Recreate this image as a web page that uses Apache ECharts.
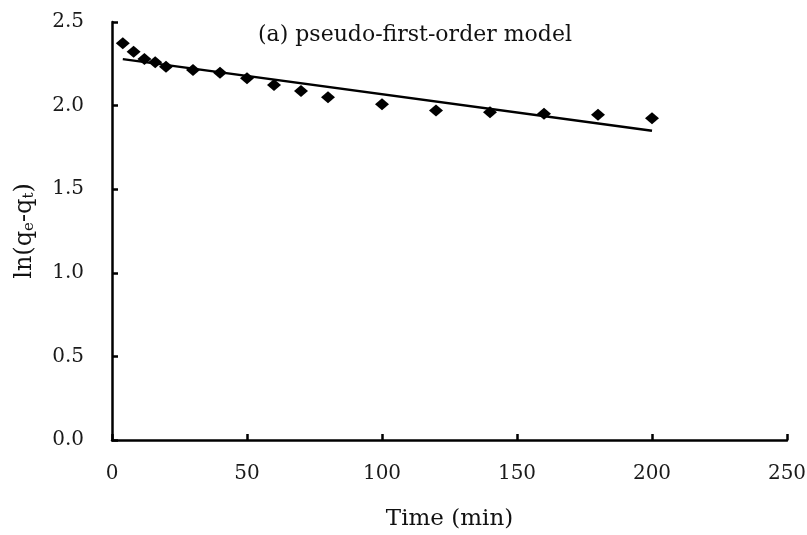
<!DOCTYPE html>
<html>
<head>
<meta charset="utf-8">
<script src="https://cdn.jsdelivr.net/npm/echarts@6/dist/echarts.min.js"></script>
<style>html,body{margin:0;padding:0;background:#fff;overflow:hidden}#c{width:807px;height:535px}</style>
</head>
<body>
<div id="c"></div>
<script>
var timeMin = [4, 8, 12, 16, 20, 30, 40, 50, 60, 70, 80, 100, 120, 140, 160, 180, 200];
var lnQ = [2.373, 2.322, 2.279, 2.259, 2.233, 2.213, 2.197, 2.163, 2.123, 2.087, 2.050, 2.008, 1.970, 1.960, 1.952, 1.946, 1.924];
var fitTime = [4, 200];
var fitLn = [2.278, 1.849];
var xTicks = [0, 50, 100, 150, 200, 250];
var yTicks = [0, 0.5, 1.0, 1.5, 2.0, 2.5];

var font = 'DejaVu Serif';
var chart = echarts.init(document.getElementById('c'));
chart.setOption({
  animation: false,
  title: {
    text: '(a) pseudo-first-order model',
    left: 410, top: 19, textAlign: 'center',
    textStyle: {fontFamily: font, fontSize: 22, fontWeight: 'normal', color: '#111'}
  },
  grid: {left: 112, right: 20, top: 22, bottom: 95, outerBoundsMode: 'none', containLabel: false},
  xAxis: {
    type: 'value', min: xTicks[0], max: xTicks[xTicks.length - 1], interval: 50,
    name: 'Time (min)', nameLocation: 'middle', nameGap: 68,
    nameTextStyle: {fontFamily: font, fontSize: 23, color: '#111'},
    axisLine: {lineStyle: {color: '#000', width: 2.5}},
    axisTick: {inside: true, length: 6, lineStyle: {color: '#000', width: 2.5}},
    axisLabel: {fontFamily: font, fontSize: 20, color: '#1a1a1a', margin: 24},
    splitLine: {show: false}
  },
  yAxis: {
    type: 'value', min: yTicks[0], max: yTicks[yTicks.length - 1], interval: 0.5,
    name: '{n|ln(q}{s|e}{n|-q}{s|t}{n|)}', nameLocation: 'middle', nameGap: 75, nameRotate: 90,
    nameTextStyle: {
      rich: {
        n: {fontFamily: font, fontSize: 24, color: '#111'},
        s: {fontFamily: font, fontSize: 15, color: '#111', verticalAlign: 'bottom', padding: [9, 0, 0, 0]}
      }
    },
    axisLine: {show: true, lineStyle: {color: '#000', width: 2.5}},
    axisTick: {show: true, inside: true, length: 6, lineStyle: {color: '#000', width: 2.5}},
    axisLabel: {fontFamily: font, fontSize: 20, color: '#1a1a1a', margin: 28,
      formatter: function (v) { return v.toFixed(1); }},
    splitLine: {show: false}
  },
  series: [
    {
      type: 'line',
      data: fitTime.map(function (t, i) { return [t, fitLn[i]]; }),
      showSymbol: false, symbol: 'none',
      lineStyle: {color: '#000', width: 2.5}
    },
    {
      type: 'scatter',
      data: timeMin.map(function (t, i) { return [t, lnQ[i]]; }),
      symbol: 'diamond', symbolSize: [14, 12],
      itemStyle: {color: '#000', opacity: 1}
    }
  ]
});
</script>
</body>
</html>
